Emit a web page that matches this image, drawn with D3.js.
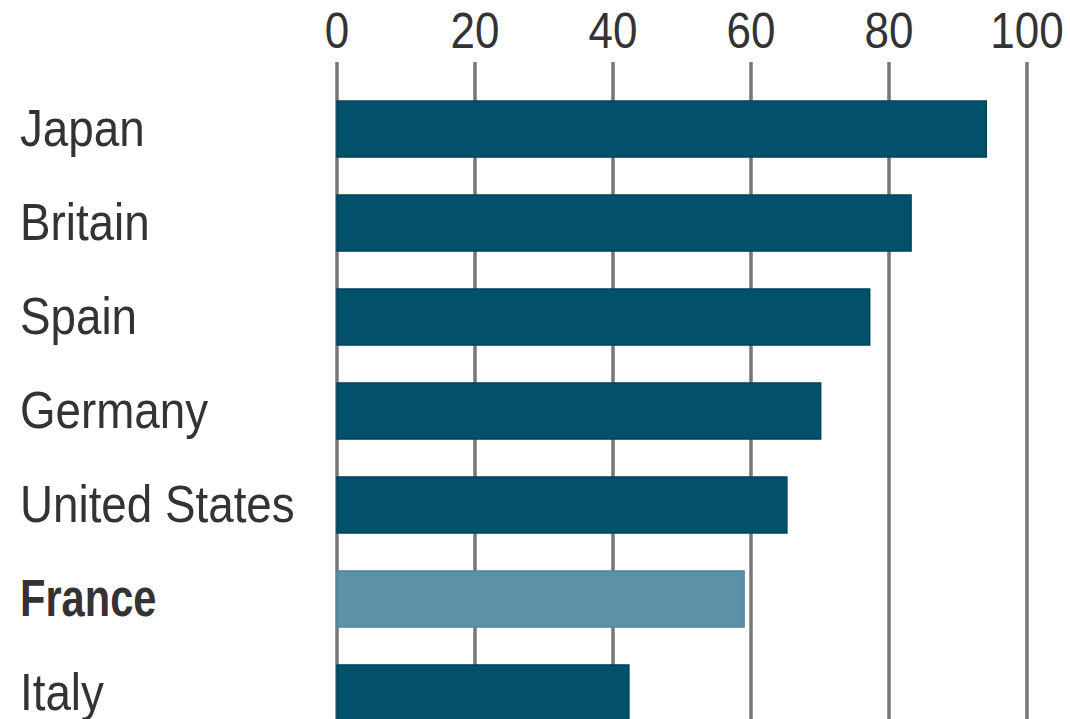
<!DOCTYPE html>
<html>
<head>
<meta charset="utf-8">
<script src="https://cdn.jsdelivr.net/npm/d3@7"></script>
<style>
  body { margin: 0; background: #fff; }
  svg text { font-family: "Liberation Sans", Arial, sans-serif; fill: #333; }
</style>
</head>
<body>
<svg id="chart" width="1070" height="719"></svg>
<script>
// data
var countries = ["Japan", "Britain", "Spain", "Germany", "United States", "France", "Italy"];
var values = [94.1, 83.2, 77.2, 70.1, 65.2, 59.0, 42.3];
var highlight = ["France"];
var ticks = [0, 20, 40, 60, 80, 100];

var svg = d3.select("#chart");

var x = d3.scaleLinear().domain([0, 100]).range([337, 1027]);
var y = d3.scaleBand().domain(countries).range([101, 721]).paddingInner(0.404).paddingOuter(0);

var rows = countries.map(function(c, i){ return {name: c, value: values[i]}; });

// grid lines
svg.append("g")
    .selectAll("line")
    .data(ticks)
    .enter()
    .append("line")
    .attr("x1", d => x(d))
    .attr("x2", d => x(d))
    .attr("y1", 62)
    .attr("y2", 719)
    .attr("stroke", "#777")
    .attr("stroke-width", 3.5);

// tick labels along the top
svg.append("g")
    .selectAll("text")
    .data(ticks)
    .enter()
    .append("text")
    .attr("transform", d => "translate(" + x(d) + ",48) scale(0.88,1)")
    .attr("text-anchor", "middle")
    .style("font-size", "50px")
    .text(d => d);

// bars
svg.append("g")
    .selectAll("rect")
    .data(rows)
    .enter()
    .append("rect")
    .attr("x", x(0))
    .attr("y", d => y(d.name))
    .attr("width", d => x(d.value) - x(0))
    .attr("height", y.bandwidth())
    .attr("fill", d => highlight.includes(d.name) ? "#5c91a8" : "#03506b")
    .attr("stroke", d => highlight.includes(d.name) ? "#5087a0" : "#01425b")
    .attr("stroke-width", 1.5);

// country labels (France is set in bold, a bit narrower)
svg.append("g")
    .selectAll("text")
    .data(rows)
    .enter()
    .append("text")
    .attr("transform", function(d) {
        var sx = highlight.includes(d.name) ? 0.8 : 0.88;
        return "translate(20," + (y(d.name) + y.bandwidth() / 2 + 17) + ") scale(" + sx + ",1)";
    })
    .style("font-size", "52px")
    .style("font-weight", d => highlight.includes(d.name) ? "bold" : "normal")
    .text(d => d.name);
</script>
</body>
</html>
